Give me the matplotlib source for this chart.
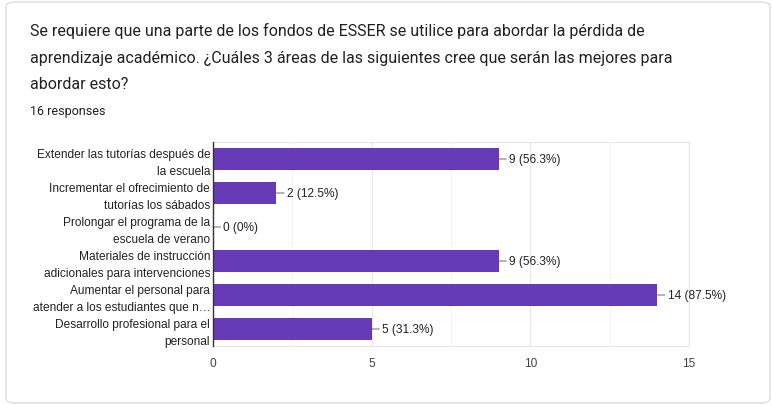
import matplotlib
matplotlib.use("Agg")
import matplotlib.pyplot as plt
from matplotlib.patches import FancyBboxPatch

categories = [
    "Extender las tutorías después de\nla escuela",
    "Incrementar el ofrecimiento de\ntutorías los sábados",
    "Prolongar el programa de la\nescuela de verano",
    "Materiales de instrucción\nadicionales para intervenciones",
    "Aumentar el personal para\natender a los estudiantes que n…",
    "Desarrollo profesional para el\npersonal",
]
counts = [9, 2, 0, 9, 14, 5]
labels = ["9 (56.3%)", "2 (12.5%)", "0 (0%)", "9 (56.3%)", "14 (87.5%)", "5 (31.3%)"]
xticks = [0, 5, 10, 15]

title = ("Se requiere que una parte de los fondos de ESSER se utilice para abordar la pérdida de\n"
         "aprendizaje académico. ¿Cuáles 3 áreas de las siguientes cree que serán las mejores para\n"
         "abordar esto?")
subtitle = "16 responses"

W, H = 772, 406
fig = plt.figure(figsize=(W / 100, H / 100), dpi=100)
plt.rcParams['font.family'] = ['Roboto', 'DejaVu Sans']
chart_font = ['Liberation Sans', 'DejaVu Sans']

# card
card = FancyBboxPatch((6 / W, 2 / H), 764 / W, 401 / H,
                      boxstyle="round,pad=0,rounding_size=0.012",
                      transform=fig.transFigure, facecolor="white",
                      edgecolor="#dadce0", linewidth=1.0, zorder=-10)
fig.patches.append(card)

fig.text(30 / W, 1 - 23 / H, title, ha="left", va="top", fontsize=11.5,
         color="#202124", linespacing=1.97)
fig.text(30 / W, 1 - 111 / H, subtitle, ha="left", va="center", fontsize=9,
         color="#202124")

left, right, top, bottom = 213, 689, 143, 347
ax = fig.add_axes([left / W, 1 - bottom / H, (right - left) / W, (bottom - top) / H])
ax.set_facecolor("none")

y = list(range(len(categories)))
ax.barh(y, counts, height=0.62, color="#673ab7", zorder=3)
ax.set_ylim(len(categories) - 0.5, -0.5)
ax.set_xlim(0, 15)
ax.set_xticks(xticks)
ax.set_xticks([2.5, 7.5, 12.5], minor=True)
ax.set_yticks(y)
ax.set_yticklabels(categories, fontsize=8.6, color="#222222", linespacing=1.45,
                   family=chart_font)
ax.set_xticklabels([str(t) for t in xticks], family=chart_font)
ax.tick_params(axis="y", length=0, pad=2)
ax.tick_params(axis="x", which="both", length=0, pad=8, labelsize=8.6, labelcolor="#444444")
ax.grid(axis="x", which="major", color="#e8e8e8", linewidth=0.9, zorder=0)
ax.grid(axis="x", which="minor", color="#f4f4f4", linewidth=0.8, zorder=0)
for s in ["top", "right", "bottom"]:
    ax.spines[s].set_color("#e6e6e6")
ax.spines["left"].set_color("#333333")
ax.spines["left"].set_linewidth(1.0)
ax.spines["left"].set_zorder(4)

for yi, c, lab in zip(y, counts, labels):
    ax.annotate(lab, xy=(c, yi), xytext=(7.5, 0), textcoords="offset points",
                ha="left", va="center", fontsize=8.6, color="#222222",
                family=chart_font,
                arrowprops=dict(arrowstyle="-", color="#666666", lw=0.7,
                                shrinkA=0, shrinkB=0))

fig.savefig("out.png", dpi=100)
